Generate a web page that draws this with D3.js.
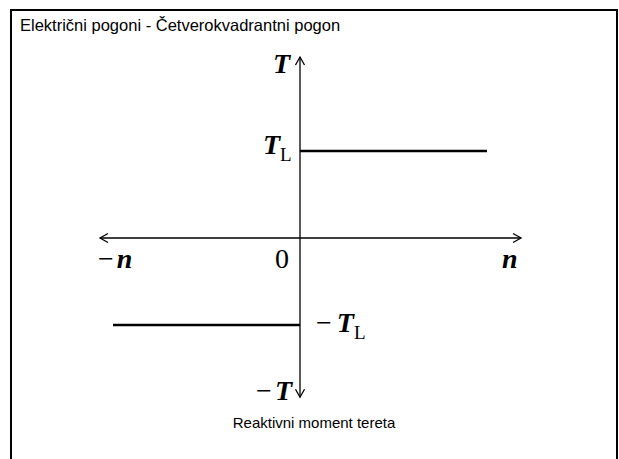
<!DOCTYPE html>
<html>
<head>
<meta charset="utf-8">
<script src="https://cdn.jsdelivr.net/npm/d3@7"></script>
<style>
  html, body { margin: 0; padding: 0; background: #fff; }
  svg { display: block; }
</style>
</head>
<body>
<script>
// Four-quadrant drive: reactive load torque T = T_L * sign(n)
const title = "Električni pogoni - Četverokvadrantni pogon";
const caption = "Reaktivni moment tereta";

// speed axis extent (left tip, right tip) and torque axis extent (bottom tip, top tip)
const speedAxis = [-1, 1.105];
const torqueAxis = [-1.83, 2.08];

// load characteristic segments: speed ranges and the torque level on each
const loadSpeed = [[0, 0.935], [-0.935, 0]];
const loadTorque = [1, -1];

const W = 619, H = 459;
const svg = d3.select("body").append("svg").attr("width", W).attr("height", H);

const x = d3.scaleLinear().domain([-1, 1]).range([100, 500]);
const y = d3.scaleLinear().domain([-1, 1]).range([325, 151]);

// slide frame
svg.append("rect")
  .attr("x", 11).attr("y", 10).attr("width", 606).attr("height", 470)
  .attr("fill", "none").attr("stroke", "#000").attr("stroke-width", 2);

svg.append("text")
  .attr("x", 20).attr("y", 31)
  .attr("font-family", "Liberation Sans, Arial, sans-serif")
  .attr("font-size", 16.5)
  .text(title);

const axisG = svg.append("g").attr("stroke", "#000").attr("stroke-width", 1.3).attr("fill", "none");

// horizontal (speed) axis with open arrowheads at both ends
axisG.append("line")
  .attr("x1", x(speedAxis[0])).attr("x2", x(speedAxis[1]))
  .attr("y1", y(0)).attr("y2", y(0));
// vertical (torque) axis with open arrowheads at both ends
axisG.append("line")
  .attr("x1", x(0)).attr("x2", x(0))
  .attr("y1", y(torqueAxis[0])).attr("y2", y(torqueAxis[1]));

const ah = 8, aw = 4.5;
function chevron(px, py, dx, dy) {
  // dx,dy: unit direction the arrow points to
  const bx = px - dx * ah, by = py - dy * ah;
  const nx = -dy, ny = dx;
  return `M${bx + nx * aw},${by + ny * aw}L${px},${py}L${bx - nx * aw},${by - ny * aw}`;
}
axisG.append("path").attr("d", chevron(x(speedAxis[1]), y(0), 1, 0));
axisG.append("path").attr("d", chevron(x(speedAxis[0]), y(0), -1, 0));
axisG.append("path").attr("d", chevron(x(0), y(torqueAxis[1]), 0, -1));
axisG.append("path").attr("d", chevron(x(0), y(torqueAxis[0]), 0, 1));

// load torque characteristic
svg.append("g").selectAll("line")
  .data(loadSpeed.map((s, i) => ({ s, t: loadTorque[i] })))
  .join("line")
  .attr("x1", d => x(d.s[0])).attr("x2", d => x(d.s[1]))
  .attr("y1", d => y(d.t)).attr("y2", d => y(d.t))
  .attr("stroke", "#000").attr("stroke-width", 2.6);

const serif = "Liberation Serif, Times New Roman, serif";
function mathLabel(px, py, parts, anchor) {
  const t = svg.append("text")
    .attr("x", px).attr("y", py)
    .attr("text-anchor", anchor || "start")
    .attr("font-family", serif)
    .attr("font-size", 28);
  parts.forEach(p => {
    const ts = t.append("tspan").text(p.text);
    if (p.bold) ts.attr("font-weight", "bold").attr("font-style", "italic");
    if (p.sub) ts.attr("font-size", 19).attr("dy", 7);
    if (p.dx) ts.attr("dx", p.dx);
  });
  return t;
}

// axis labels
mathLabel(x(0) - 10, y(torqueAxis[1]) + 16, [{ text: "T", bold: true }], "end");
mathLabel(x(0) - 8, y(torqueAxis[0]) + 3, [{ text: "−" }, { text: "T", bold: true, dx: 3 }], "end");
mathLabel(x(speedAxis[0]) - 2, y(0) + 30, [{ text: "−" }, { text: "n", bold: true, dx: 3 }]);
mathLabel(x(speedAxis[1]) - 19, y(0) + 30, [{ text: "n", bold: true }]);
mathLabel(x(0) - 25, y(0) + 30, [{ text: "0" }]);

// level labels
mathLabel(x(0) - 37, y(loadTorque[0]) + 3, [{ text: "T", bold: true }, { text: "L", sub: true }]);
mathLabel(x(0) + 16, y(loadTorque[1]) + 7, [{ text: "−" }, { text: "T", bold: true, dx: 5 }, { text: "L", sub: true }]);

svg.append("text")
  .attr("x", 314).attr("y", 428)
  .attr("text-anchor", "middle")
  .attr("font-family", "Liberation Sans, Arial, sans-serif")
  .attr("font-size", 15)
  .text(caption);
</script>
</body>
</html>
